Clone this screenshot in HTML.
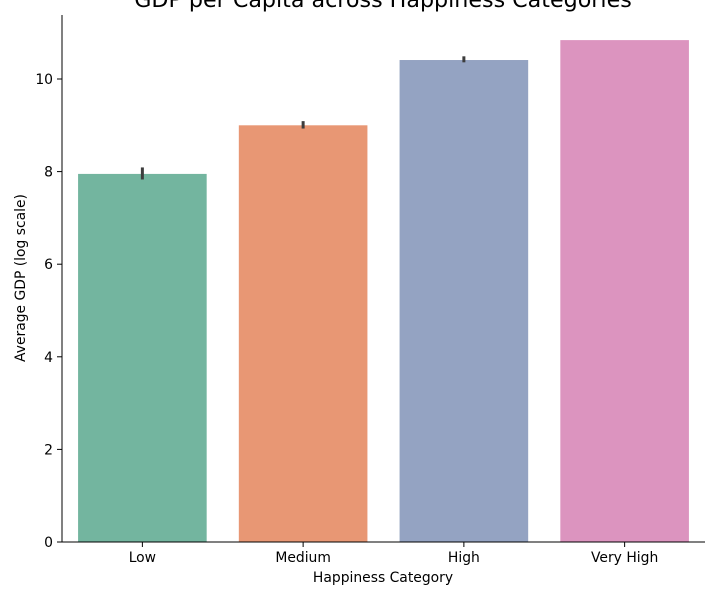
<!DOCTYPE html>
<html><head><meta charset="utf-8"><style>
body{margin:0;background:#fff;font-family:"DejaVu Sans","Liberation Sans",sans-serif;}
</style></head><body>
<svg id="chart" width="719" height="600" xmlns="http://www.w3.org/2000/svg" font-family="DejaVu Sans, Liberation Sans, sans-serif"></svg>
<script>
const categories = ["Low","Medium","High","Very High"];
const values = [7.95, 9.0, 10.41, 10.84];
const errLow = [7.83, 8.93, 10.36, 10.84];
const errHigh = [8.09, 9.09, 10.49, 10.84];
const colors = ["#73b59f","#e89774","#94a3c2","#dc94bf"];
const yTicks = [0,2,4,6,8,10];

const NS="http://www.w3.org/2000/svg";
const svg=document.getElementById('chart');
const L=62,R=705,T=15,B=542;
const y=v=>B-v*46.3;
const band=(R-L)/categories.length;
const x=i=>L+band*(i+0.5);
function el(tag,attrs,parent){const e=document.createElementNS(NS,tag);for(const k in attrs)e.setAttribute(k,attrs[k]);(parent||svg).appendChild(e);return e;}

const title=el('text',{x:383,y:7,'text-anchor':'middle','font-size':22.2,fill:'#000'});


title.textContent="GDP per Capita across Happiness Categories";

categories.forEach((c,i)=>{
  const w=band*0.8;
  const r=el('rect',{x:x(i)-w/2,y:y(values[i]),width:w,height:B-y(values[i]),fill:colors[i]});
  
  
  const e=el('line',{x1:x(i),x2:x(i),y1:y(errLow[i]),y2:y(errHigh[i]),stroke:'#3d3d3d','stroke-width':3});
  
  
  el('line',{x1:x(i),x2:x(i),y1:B,y2:B+5,stroke:'#000'});
  const t=el('text',{x:x(i),y:B+20,'text-anchor':'middle','font-size':13.9});
  
  
  t.textContent=c;
});
yTicks.forEach(v=>{
  el('line',{x1:L-5,x2:L,y1:y(v),y2:y(v),stroke:'#000'});
  const t=el('text',{x:L-9,y:y(v)+5,'text-anchor':'end','font-size':13.9});
  
  
  t.textContent=v;
});
const ya=el('line',{x1:L,x2:L,y1:T,y2:B,stroke:'#000'});


const xa=el('line',{x1:L,x2:R,y1:B,y2:B,stroke:'#000'});


const xt=el('text',{x:383,y:582,'text-anchor':'middle','font-size':13.9});


xt.textContent="Happiness Category";
const yt=el('text',{x:0,y:0,'text-anchor':'middle','font-size':13.9,transform:'translate(25,278) rotate(-90)'});


yt.textContent="Average GDP (log scale)";
</script>
</body></html>
